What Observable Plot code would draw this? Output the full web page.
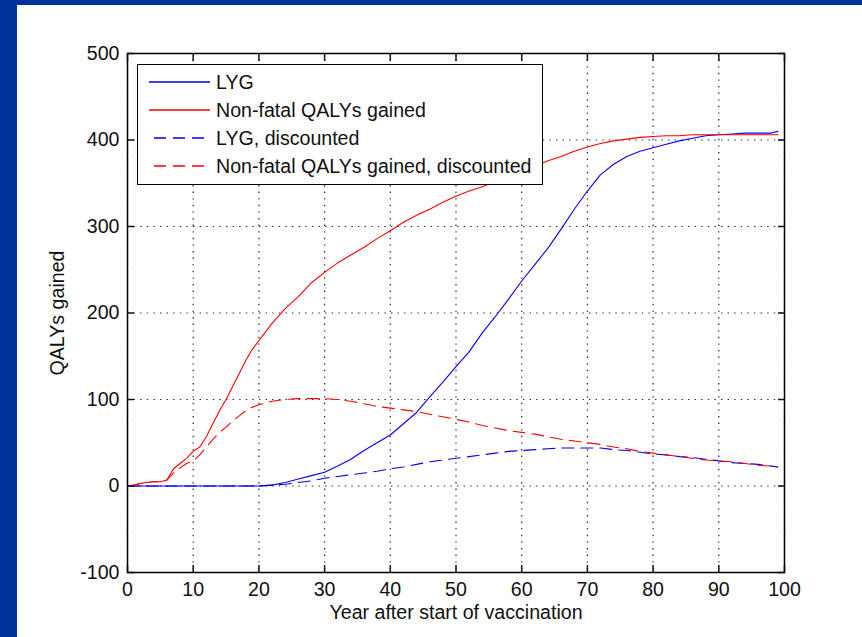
<!DOCTYPE html>
<html>
<head>
<meta charset="utf-8">
<script src="https://cdn.jsdelivr.net/npm/d3@7"></script>
<script src="https://cdn.jsdelivr.net/npm/@observablehq/plot@0.6"></script>
<style>
  html, body { margin: 0; padding: 0; background: #fff; }
  #wrap { position: relative; width: 862px; height: 637px; overflow: hidden; background: #fff;
          font-family: "Liberation Sans", Arial, sans-serif; }
  #bandTop { position: absolute; left: 0; top: 0; width: 862px; height: 5px; background: #003399; }
  #bandLeft { position: absolute; left: 0; top: 0; width: 17px; height: 637px; background: #003399; }
  #chart { position: absolute; left: 0; top: 0; }
  #legend { position: absolute; left: 137px; top: 64px; width: 406px; height: 121px; background: #fff;
            border: 1.3px solid #000; box-sizing: border-box; }
  .item { position: absolute; left: 0; height: 24px; display: flex; align-items: center; font-size: 19.6px; color: #111; white-space: nowrap; }
  .item svg { margin-left: 11px; margin-right: 6px; }
</style>
</head>
<body>
<div id="wrap">
  <div id="bandTop"></div>
  <div id="bandLeft"></div>
  <div id="chart"></div>
  <div id="legend"></div>
</div>
<script>
// ---- data ----
const years = [0,1,2,3,4,5,6,7,8,9,10,11,12,13,14,15,16,17,18,19,20,
  22,24,26,28,30,32,34,36,38,40,42,44,46,48,50,52,54,56,58,60,62,64,66,68,70,72,74,76,78,80,82,84,86,88,90,92,94,96,98,99];

const lyg = [0,0,0,0,0,0,0,0,0,0,0,0,0,0,0,0,0,0,0,0,0,
  1,4,8,12,16,23,31,41,50,59,72,85,103,120,138,155,177,196,216,237,256,275,297,320,341,360,372,381,387,391,395,399,402,405,406,407,408,408,408,410];

const nonFatal = [0,1,3,4,5,5,7,20,26,32,40,45,57,72,87,100,115,130,145,158,168,
  188,205,219,235,247,258,267,276,286,295,305,313,320,328,335,341,346,352,358,364,370,376,381,387,392,396,399,401,403,404,405,405,406,406,406,406,406,406,406,406];

const lygDisc = [0,0,0,0,0,0,0,0,0,0,0,0,0,0,0,0,0,0,0,0,0,
  1,2,4,6,9,11,13,15,17,20,22,25,28,30,32,34,36,38,40,41,42,43,44,44,44,44,42,41,39,37,36,34,33,31,29,27,26,25,23,22];

const nonFatalDisc = [0,1,3,4,5,5,7,15,21,26,29,36,45,54,62,68,75,81,87,91,94,
  98,100,101,101,101,100,98,95,92,90,88,86,83,80,77,74,70,67,64,62,60,57,54,52,50,48,45,43,40,38,36,34,32,30,29,28,26,24,23,22];

const seriesNames = ["LYG", "Non-fatal QALYs gained", "LYG, discounted", "Non-fatal QALYs gained, discounted"];
const seriesValues = [lyg, nonFatal, lygDisc, nonFatalDisc];
const seriesColors = ["#0000ff", "#ff0000", "#0000ff", "#ff0000"];
const seriesDashed = [false, false, true, true];

const xTicks = [0,10,20,30,40,50,60,70,80,90,100];
const yTicks = [-100,0,100,200,300,400,500];
const xLabel = "Year after start of vaccination";
const yLabel = "QALYs gained";

// ---- build ----
const dash = "12,7";
const lineMarks = seriesValues.map((vals, i) =>
  Plot.line(years.map((yr, j) => ({year: yr, value: vals[j]})), {
    x: "year", y: "value", stroke: seriesColors[i], strokeWidth: 1.1,
    strokeDasharray: seriesDashed[i] ? dash : null
  })
);

const plot = Plot.plot({
  width: 862, height: 637,
  marginLeft: 127, marginRight: 78, marginTop: 53, marginBottom: 65,
  style: {background: "transparent", fontFamily: "'Liberation Sans', Arial, sans-serif", fontSize: "19.6px", color: "#111"},
  x: {domain: [0, 100]},
  y: {domain: [-100, 500]},
  marks: [
    Plot.gridX(xTicks, {stroke: "#000", strokeOpacity: 0.85, strokeWidth: 1.2, strokeDasharray: "1.4,5.2"}),
    Plot.gridY(yTicks, {stroke: "#000", strokeOpacity: 0.85, strokeWidth: 1.2, strokeDasharray: "1.4,5.2"}),
    ...lineMarks,
    Plot.frame({stroke: "#000", strokeWidth: 1.5}),
    Plot.axisX(xTicks, {anchor: "bottom", tickSize: -7, tickPadding: 17, strokeWidth: 1.5,
      tickFormat: d => String(d),
      label: xLabel, labelAnchor: "center", labelOffset: 46, labelArrow: "none"}),
    Plot.axisX(xTicks, {anchor: "top", tickSize: -7, strokeWidth: 1.5, tickFormat: () => "", label: null}),
    Plot.axisY(yTicks, {anchor: "left", tickSize: -7, tickPadding: 15, strokeWidth: 1.5,
      tickFormat: d => String(d),
      label: yLabel, labelAnchor: "center", labelOffset: 77, labelArrow: "none"}),
    Plot.axisY(yTicks, {anchor: "right", tickSize: -7, strokeWidth: 1.5, tickFormat: () => "", label: null})
  ]
});
document.getElementById("chart").appendChild(plot);

// ---- legend ----
const legend = document.getElementById("legend");
seriesNames.forEach((name, i) => {
  const item = document.createElement("div");
  item.className = "item";
  item.style.top = (5 + i * 28) + "px";
  const ns = "http://www.w3.org/2000/svg";
  const s = document.createElementNS(ns, "svg");
  s.setAttribute("width", 61); s.setAttribute("height", 10);
  const l = document.createElementNS(ns, "line");
  l.setAttribute("x1", 0); l.setAttribute("x2", 61); l.setAttribute("y1", 5); l.setAttribute("y2", 5);
  l.setAttribute("stroke", seriesColors[i]); l.setAttribute("stroke-width", 1.3);
  if (seriesDashed[i]) { l.setAttribute("stroke-dasharray", dash); l.setAttribute("stroke-dashoffset", -5); }
  s.appendChild(l);
  item.appendChild(s);
  const t = document.createElement("span");
  t.textContent = name;
  item.appendChild(t);
  legend.appendChild(item);
});
</script>
</body>
</html>
